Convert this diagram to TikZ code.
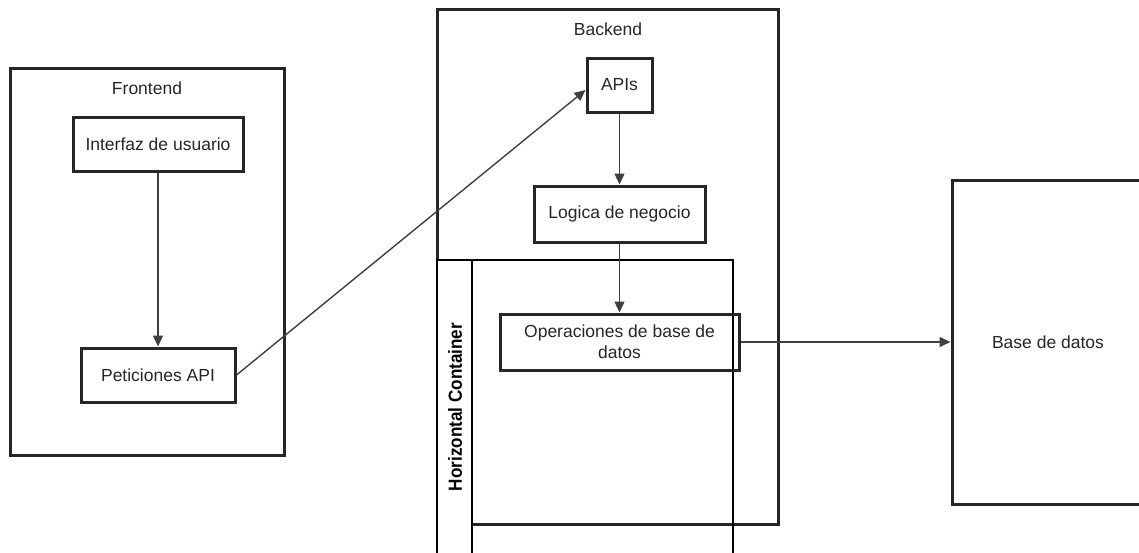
\documentclass[tikz,border=0pt]{standalone}
\usepackage{fontspec}
\setmainfont{Liberation Sans}
\usetikzlibrary{arrows.meta}
\begin{document}
\begin{tikzpicture}[x=1pt,y=-1pt,
  every node/.style={font=\fontsize{17.5}{21}\selectfont, text=black!85},
  group/.style={draw=black!85, line width=3pt, inner sep=0pt},
  box/.style={draw=black!85, line width=3pt, inner sep=0pt, align=center},
  lane/.style={draw=black, line width=1.3pt, inner sep=0pt},
  title/.style={inner sep=0pt},
  flow/.style={draw=black!75, line width=1.4pt, -{Triangle[length=11pt,width=10pt]}},
]
\useasboundingbox (0,0) rectangle (1139,552);
\clip (0,0) rectangle (1139,552);

% Frontend group
\node[group, minimum width=274pt, minimum height=387pt] (front) at (147,261.5) {};
\node[title] (fronttitle) at (147,88) {Frontend};
\node[box, minimum width=170pt, minimum height=54pt] (ui) at (158,144) {Interfaz de usuario};
\node[box, minimum width=154pt, minimum height=54pt] (req) at (158,375) {Peticiones API};

% Backend group
\node[group, minimum width=341pt, minimum height=515pt] (back) at (607.5,266.5) {};
\node[title] (backtitle) at (608,29) {Backend};

% Horizontal container (label strip and body)
\node[lane, fill=white, minimum width=35pt, minimum height=360pt] (strip) at (454.5,440) {};
\node[lane, minimum width=296pt, minimum height=360pt] (hc) at (585,440) {};
\node[title, rotate=90, font=\fontsize{19}{22}\selectfont\bfseries, text=black] (hclabel) at (455,407) {\scalebox{0.9}[1]{Horizontal Container}};

% Backend components
\node[box, minimum width=65pt, minimum height=54pt] (apis) at (619.5,85) {APIs};
\node[box, minimum width=171pt, minimum height=56pt] (logic) at (619.5,214) {Logica de negocio};
\node[box, minimum width=239pt, minimum height=56pt] (ops) at (619.5,342) {Operaciones de base de\\datos};

% Database
\node[group, minimum width=216pt, minimum height=324pt] (db) at (1060,342) {};
\node[title] (dblabel) at (1048,342) {Base de datos};

% Connectors
\draw[flow] (ui.south) -- (req.north);
\draw[flow] (req.east) -- ([yshift=-5pt]apis.west);
\draw[flow] (apis.south) -- (logic.north);
\draw[flow] (logic.south) -- (ops.north);
\draw[flow] (ops.east) -- (db.west);
\end{tikzpicture}
\end{document}
